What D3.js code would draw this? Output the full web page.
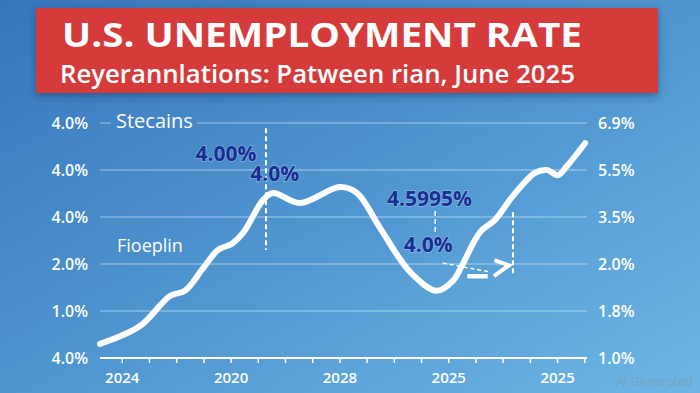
<!DOCTYPE html>
<html>
<head>
<meta charset="utf-8">
<script src="https://cdn.jsdelivr.net/npm/d3@7"></script>
<style>
  html, body { margin: 0; padding: 0; background: #4a8fcb; }
  svg { display: block; }
</style>
</head>
<body>
<div id="container"></div>
<script>
/* DATA */
const titleText = "U.S. UNEMPLOYMENT RATE";
const subtitleText = "Reyerannlations: Patween rian, June 2025";
const leftTickLabels = ["4.0%", "1.0%", "2.0%", "4.0%", "4.0%", "4.0%"];   // bottom -> top
const rightTickLabels = ["1.0%", "1.8%", "2.0%", "3.5%", "5.5%", "6.9%"];
const xTickLabels = ["2024", "2020", "2028", "2025", "2025"];             // every 4th tick
const tickCount = 18;

// line: position along the x ticks, level in gridline units
const linePos = [-0.8, 0.67, 1.77, 2.32, 2.99, 3.54, 4.05, 4.46, 5.19, 5.56, 6.55, 8.02, 8.65,
                 9.49, 10.6, 11.58, 12.17, 12.5, 13.17, 13.72, 14.38, 15.19, 15.63, 16.03, 16.37, 17.03];
const lineVal = [0.30, 0.68, 1.32, 1.43, 1.91, 2.30, 2.43, 2.66, 3.36, 3.51, 3.30, 3.64, 3.51,
                 2.77, 1.83, 1.43, 1.64, 1.96, 2.68, 2.94, 3.45, 3.94, 4.00, 3.89, 4.09, 4.57];

// annotations
const notes = [
  {text: "4.00%", pos: 4.95, val: 4.19, anchor: "end"},
  {text: "4.0%", pos: 5.62, val: 3.77, anchor: "middle"},
  {text: "4.5995%", pos: 11.31, val: 3.23, anchor: "middle"},
  {text: "4.0%", pos: 11.26, val: 2.25, anchor: "middle"}
];

/* CONSTANTS */
const W = 700, H = 393;
const plot = {left: 100, right: 587, top: 123, bottom: 358};

const svg = d3.select("#container")
  .append("svg")
  .attr("width", W)
  .attr("height", H);

const defs = svg.append("defs");
const bg = defs.append("linearGradient")
  .attr("id", "bg")
  .attr("x1", "0%").attr("y1", "0%")
  .attr("x2", "100%").attr("y2", "100%");
bg.append("stop").attr("offset", "0%").attr("stop-color", "#3776bb");
bg.append("stop").attr("offset", "55%").attr("stop-color", "#5198d2");
bg.append("stop").attr("offset", "100%").attr("stop-color", "#6db6e4");

const shadow = defs.append("filter").attr("id", "shadow")
  .attr("x", "-5%").attr("y", "-20%").attr("width", "110%").attr("height", "150%");
shadow.append("feDropShadow")
  .attr("dx", 0).attr("dy", 3).attr("stdDeviation", 4)
  .attr("flood-color", "#0b2a55").attr("flood-opacity", 0.45);

svg.append("rect")
  .attr("width", W).attr("height", H)
  .attr("fill", "url(#bg)");

/* BANNER */
svg.append("rect")
  .attr("x", 36).attr("y", 8)
  .attr("width", 622).attr("height", 85)
  .attr("fill", "#d53a3a")
  .attr("filter", "url(#shadow)");

svg.append("text")
  .attr("x", 62).attr("y", 47)
  .attr("textLength", 520)
  .attr("lengthAdjust", "spacingAndGlyphs")
  .style("font-family", "'Open Sans', sans-serif")
  .style("font-weight", 700)
  .style("font-size", "34px")
  .style("fill", "#fff")
  .text(titleText);

svg.append("text")
  .attr("x", 60).attr("y", 83)
  .attr("textLength", 515)
  .attr("lengthAdjust", "spacingAndGlyphs")
  .style("font-family", "'Open Sans', sans-serif")
  .style("font-weight", 600)
  .style("font-size", "24.5px")
  .style("fill", "#fff")
  .text(subtitleText);

/* SCALES */
const xScale = d3.scaleLinear()
  .domain([-0.8, 17.1])
  .range([plot.left, plot.right]);

const yScale = d3.scaleLinear()
  .domain([0, 5])
  .range([plot.bottom, plot.top]);

/* GRID */
const grid = svg.append("g")
  .attr("stroke", "#ffffff")
  .attr("stroke-opacity", 0.35)
  .attr("stroke-width", 1.5);

[1, 2, 3, 4].forEach(v => {
  grid.append("line")
    .attr("x1", plot.left).attr("x2", plot.right)
    .attr("y1", yScale(v)).attr("y2", yScale(v));
});
// top gridline is broken by the "Stecains" label
grid.append("line")
  .attr("x1", plot.left).attr("x2", 111)
  .attr("y1", yScale(5)).attr("y2", yScale(5));
grid.append("line")
  .attr("x1", 197).attr("x2", plot.right)
  .attr("y1", yScale(5)).attr("y2", yScale(5));

/* AXES */
const labelStyle = sel => sel
  .style("font-family", "'Open Sans', sans-serif")
  .style("font-weight", 600)
  .style("fill", "#fff");

const leftAxis = svg.append("g")
  .attr("transform", `translate(${plot.left},0)`)
  .call(d3.axisLeft(yScale)
    .tickValues(d3.range(6))
    .tickSize(0)
    .tickPadding(12)
    .tickFormat(d => leftTickLabels[d]));
leftAxis.select(".domain").remove();
leftAxis.selectAll("text").call(labelStyle).style("font-size", "16px");

const rightAxis = svg.append("g")
  .attr("transform", `translate(${plot.right},0)`)
  .call(d3.axisRight(yScale)
    .tickValues(d3.range(6))
    .tickSize(0)
    .tickPadding(11)
    .tickFormat(d => rightTickLabels[d]));
rightAxis.select(".domain").remove();
rightAxis.selectAll("text").call(labelStyle).style("font-size", "16px");

const xAxis = svg.append("g")
  .attr("transform", `translate(0,${plot.bottom})`)
  .call(d3.axisBottom(xScale)
    .tickValues(d3.range(tickCount))
    .tickSizeInner(5)
    .tickSizeOuter(0)
    .tickPadding(9)
    .tickFormat(d => d % 4 === 0 ? xTickLabels[d / 4] : ""));
xAxis.select(".domain")
  .attr("d", `M${plot.left},0H${plot.right}`)
  .attr("stroke", "#fff").attr("stroke-width", 2);
xAxis.selectAll(".tick line").attr("stroke", "#fff").attr("stroke-width", 1.5);
xAxis.selectAll("text").call(labelStyle).style("font-size", "15px");

/* LINE */
const lineData = linePos.map((p, i) => ({pos: p, val: lineVal[i]}));
const line = d3.line()
  .x(d => xScale(d.pos))
  .y(d => yScale(d.val))
  .curve(d3.curveCatmullRom.alpha(0.5));

svg.append("path")
  .datum(lineData)
  .attr("d", line)
  .attr("fill", "none")
  .attr("stroke", "#fff")
  .attr("stroke-width", 6)
  .attr("stroke-linecap", "round")
  .attr("stroke-linejoin", "round");

/* ANNOTATIONS */
const dashed = (x, y1, y2, w) => svg.append("line")
  .attr("x1", x).attr("x2", x)
  .attr("y1", y1).attr("y2", y2)
  .attr("stroke", "#fff")
  .attr("stroke-width", w || 2)
  .attr("stroke-dasharray", "5,3");

dashed(xScale(5.3), yScale(4.89), yScale(2.3));
dashed(xScale(11.52), yScale(3.13), yScale(2.66), 1.5);
dashed(xScale(14.38), yScale(3.1), yScale(1.77));

// arrow
svg.append("line")
  .attr("x1", xScale(11.8)).attr("y1", yScale(2.02))
  .attr("x2", xScale(13.55)).attr("y2", yScale(1.83))
  .attr("stroke", "#fff").attr("stroke-width", 1.5)
  .attr("stroke-dasharray", "4,3");
svg.append("line")
  .attr("x1", xScale(12.7)).attr("y1", yScale(1.74))
  .attr("x2", xScale(13.45)).attr("y2", yScale(1.74))
  .attr("stroke", "#fff").attr("stroke-width", 4.5);
svg.append("path")
  .attr("d", `M${xScale(13.7)},${yScale(2.08)}L${xScale(14.23)},${yScale(1.97)}L${xScale(13.68)},${yScale(1.74)}`)
  .attr("fill", "none")
  .attr("stroke", "#fff").attr("stroke-width", 4)
  .attr("stroke-linejoin", "miter");

svg.selectAll(".note")
  .data(notes)
  .enter()
  .append("text")
  .attr("class", "note")
  .attr("x", d => xScale(d.pos))
  .attr("y", d => yScale(d.val))
  .attr("text-anchor", d => d.anchor)
  .style("font-family", "'Open Sans', sans-serif")
  .style("font-weight", 700)
  .style("font-size", "21px")
  .style("fill", "#1a2d94")
  .style("stroke", "rgba(255,255,255,0.3)")
  .style("stroke-width", 1.5)
  .style("paint-order", "stroke")
  .text(d => d.text);

svg.append("text")
  .attr("x", 116).attr("y", 128)
  .style("font-family", "'Open Sans', sans-serif")
  .style("font-size", "20px")
  .style("fill", "#fff")
  .text("Stecains");

svg.append("text")
  .attr("x", 117).attr("y", 252)
  .style("font-family", "'Open Sans', sans-serif")
  .style("font-size", "18px")
  .style("fill", "#fff")
  .text("Fioeplin");

svg.append("text")
  .attr("x", 693).attr("y", 386)
  .attr("text-anchor", "end")
  .style("font-family", "'Open Sans', sans-serif")
  .style("font-size", "12.5px")
  .style("fill", "#7d9fc0")
  .text("AI Generated");
</script>
</body>
</html>
